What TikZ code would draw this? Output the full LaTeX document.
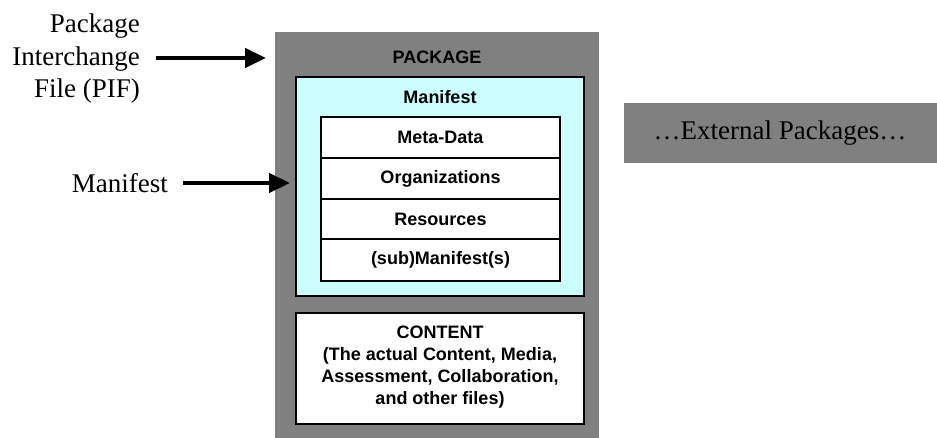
\documentclass[tikz,border=0pt]{standalone}
\usepackage{fontspec}
\setmainfont{Liberation Serif}
\setsansfont{Liberation Sans}
\usetikzlibrary{arrows.meta}
\definecolor{pkggray}{RGB}{128,128,128}
\definecolor{mancyan}{RGB}{204,255,255}
\tikzset{
  serif/.style={font=\fontsize{27}{32.5}\selectfont, inner sep=0pt},
  sanslbl/.style={font=\sffamily\bfseries\fontsize{18}{22}\selectfont, inner sep=0pt, align=center},
  rowbox/.style={draw=black, line width=1.3pt, fill=white},
  bigarrow/.style={line width=4.5pt, -{Triangle[length=21pt,width=19pt]}},
}
\begin{document}
\begin{tikzpicture}[x=1pt,y=-1pt]
\useasboundingbox (0,0) rectangle (937,438);
% package
\fill[pkggray] (275,32) rectangle (599,438);
\node[sanslbl] (pkg) at (437,57) {PACKAGE};
% manifest
\draw[fill=mancyan, draw=black, line width=1.3pt] (296,77) rectangle (584,296);
\node[sanslbl] (man) at (440,97) {Manifest};
% rows
\draw[rowbox] (321,117) rectangle (560,158);
\draw[rowbox] (321,158) rectangle (560,199);
\draw[rowbox] (321,199) rectangle (560,239);
\draw[rowbox] (321,239) rectangle (560,281);
\node[sanslbl] (md) at (440.5,137.5) {Meta-Data};
\node[sanslbl] (org) at (440.5,178.5) {Organizations};
\node[sanslbl] (res) at (440.5,219) {Resources};
\node[sanslbl] (sub) at (440.5,260) {(sub)Manifest(s)};
% content
\draw[rowbox] (296,313) rectangle (584,424);
\node[sanslbl] (cont) at (440,367) {CONTENT\\(The actual Content, Media,\\Assessment, Collaboration,\\and other files)};
% external
\fill[pkggray] (624,103) rectangle (937,163);
\node[serif] (ext) at (780,133) {\ldots External Packages\ldots};
% left labels
\node[serif, align=right, anchor=east] (pif) at (140,59) {Package\\Interchange\\File (PIF)};
\node[serif, anchor=east] (manlbl) at (168,183) {Manifest};
\coordinate (pifend) at (266,58);
\coordinate (manend) at (290,183);
\draw[bigarrow] ([xshift=16pt]pif.east |- pifend) -- (pifend);
\draw[bigarrow] ([xshift=15pt]manlbl.east) -- (manend);
\end{tikzpicture}
\end{document}
